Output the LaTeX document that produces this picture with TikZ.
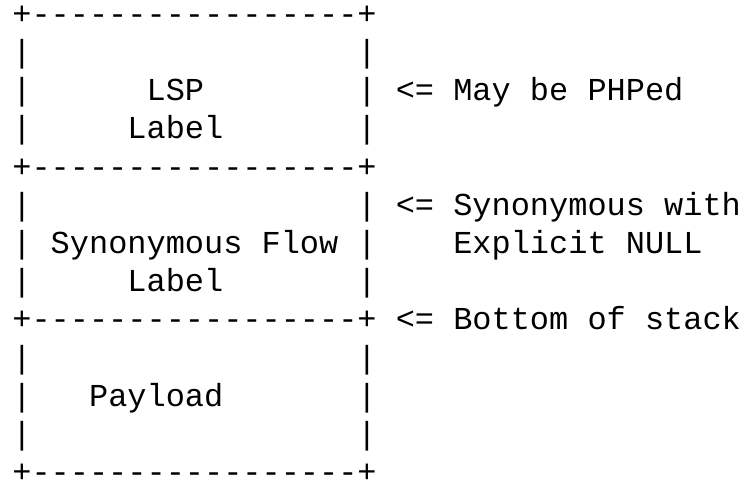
\documentclass[tikz,border=0pt]{standalone}
\usepackage{fontspec}
\setmonofont{Liberation Mono}
\begin{document}
\begin{tikzpicture}
\tikzset{txt/.style={inner sep=0pt, outer sep=0pt, anchor=base west, font=\ttfamily\fontsize{31.95pt}{38pt}\selectfont}}
\fill[white] (0,0) rectangle (750pt,-482pt);
\useasboundingbox (0,0) rectangle (750pt,-482pt);
\begin{scope}[x=19.17pt, y=-38.2pt, shift={(12.4pt,-24.3pt)}]
\node[txt] (top) at (0,0) {+-----------------+};
\node[txt] (sepa) at (0,4) {+-----------------+};
\node[txt] (sepb) at (0,8) {+-----------------+};
\node[txt] (bottom) at (0,12) {+-----------------+};
\foreach \r in {1,2,3,5,6,7,9,10,11} {
  \node[txt] (lb\r) at (0,\r) {|};
  \node[txt] (rb\r) at (18,\r) {|};
}
\node[txt] (lsp) at (7,2) {LSP};
\node[txt] (lsplabel) at (6,3) {Label};
\node[txt] (sfl) at (2,6) {Synonymous Flow};
\node[txt] (sfllabel) at (6,7) {Label};
\node[txt] (payload) at (4,10) {Payload};
\node[txt] (note1) at (20,2) {<= May be PHPed};
\node[txt] (note2) at (20,5) {<= Synonymous with};
\node[txt] (note3) at (23,6) {Explicit NULL};
\node[txt] (note4) at (20,8) {<= Bottom of stack};
\end{scope}
\end{tikzpicture}
\end{document}
